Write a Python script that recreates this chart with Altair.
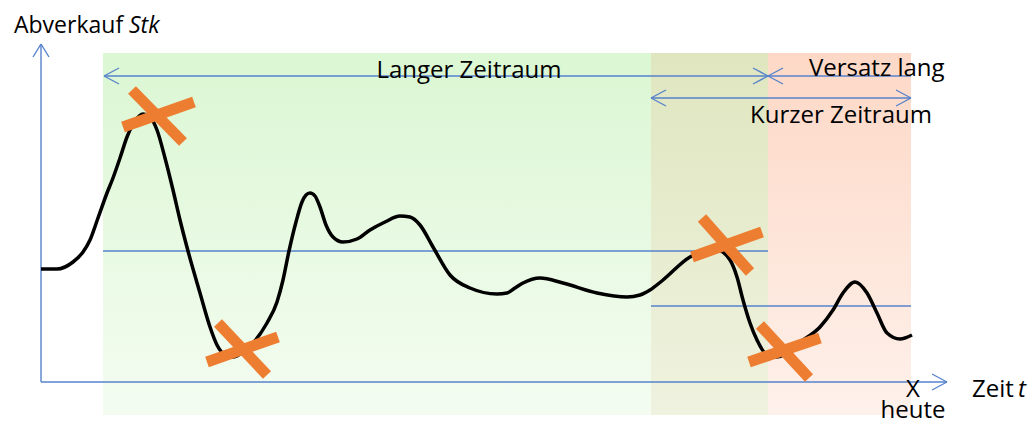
import altair as alt
import pandas as pd

# ---- data (time t, sales s) ----
curve_t = [0, 16, 32, 42, 49, 57, 66, 72, 79, 86, 94, 102, 109, 116, 124, 132, 139, 147, 159, 169, 176, 186, 192,
           202, 212, 226, 236, 242, 248, 255, 261, 265, 269, 274, 279, 285, 292, 302, 316, 329, 344, 359, 369, 379, 392,
           409, 429, 456, 466, 474, 482, 499, 522, 556, 586, 599, 609, 622, 649, 664, 676, 689, 696, 702, 709,
           716, 724, 736, 759, 779, 792, 802, 814, 826, 836, 846, 859, 871]
curve_s = [113, 113, 120, 130, 142, 164, 189, 204, 224, 245, 261, 268, 265, 252, 224, 192, 162, 131, 89, 55, 37, 26, 25,
           30, 39, 59, 80, 102, 131, 160, 180, 187, 189, 186, 175, 157, 145, 140, 143, 152, 160, 166, 165, 157, 135,
           107, 94, 88, 89, 94, 99, 104, 99, 89, 85, 87, 92, 102, 125, 131, 132, 122, 105, 82, 59,
           42, 29, 25, 40, 55, 72, 89, 100, 89, 69, 49, 43, 47]

# shaded periods: start, end, colours (top, bottom)
region_start = [62, 610, 727]
region_end = [610, 727, 870]
region_top_col = ["#dbf7d3", "#dfe6bf", "#fdd8c6"]
region_bot_col = ["#f4fcf1", "#eff2df", "#fef1eb"]
region_s_top = 329
region_s_bot = -33

# horizontal reference levels
level_t1 = [62, 610]
level_t2 = [727, 870]
level_s = [131, 76]

# range arrows: start, end, level, head at start, head at end
arrow_t1 = [63, 727, 610]
arrow_t2 = [727, 870, 870]
arrow_s = [306, 306, 284]
arrow_head_l = [True, True, True]
arrow_head_r = [True, False, True]

# crossed-out extremes (two bars each)
cross_t1 = [91, 82, 177, 166, 661, 651, 719, 708]
cross_s1 = [292, 255, 59, 20, 164, 125, 57, 20]
cross_t2 = [142, 153, 226, 237, 709, 721, 768, 779]
cross_s2 = [240, 280, 7, 45, 110, 150, 4, 44]

# axes
axis_t_end = 906
axis_s_end = 338

# labels
label_text = ["Abverkauf", "Stk", "Langer Zeitraum", "Versatz lang", "Kurzer Zeitraum", "Zeit", "t", "X", "heute"]
label_t = [-27, 88, 428, 768, 709, 931, 977, 872, 872]
label_s = [349, 349, 304, 306, 259, -15, -15, -15, -36]
label_size = [23, 23, 24, 24, 24, 24, 24, 24, 24]
label_align = ["left", "left", "center", "left", "left", "left", "left", "center", "center"]
label_italic = [False, True, False, False, False, False, True, False, False]

# ---- build ----
W, H = 1020, 411
XS = alt.Scale(domain=[-33, 987], nice=False, zero=False)
YS = alt.Scale(domain=[-37, 374], nice=False, zero=False)
BLUE = "#5682cc"
FONT = "Open Sans"

def xe(f="t"):
    return alt.X(f + ":Q", scale=XS, axis=None)

def ye(f="s"):
    return alt.Y(f + ":Q", scale=YS, axis=None)

layers = []
for a, b, ct, cb in zip(region_start, region_end, region_top_col, region_bot_col):
    d = pd.DataFrame({"t": [a], "t2": [b], "s": [region_s_top], "s2": [region_s_bot]})
    grad = alt.Gradient(gradient="linear", x1=0, x2=0, y1=0, y2=1,
                        stops=[alt.GradientStop(color=ct, offset=0), alt.GradientStop(color=cb, offset=1)])
    layers.append(alt.Chart(d).mark_rect(fill=grad).encode(x=xe(), x2="t2", y=ye(), y2="s2"))

# segments for blue lines
segs = []
for a, b, s in zip(level_t1, level_t2, level_s):
    segs.append((a, s, b, s))
HX, HY = 15, 8
for a, b, s, hl, hr in zip(arrow_t1, arrow_t2, arrow_s, arrow_head_l, arrow_head_r):
    segs.append((a, s, b, s))
    if hl:
        segs += [(a, s, a + HX, s + HY), (a, s, a + HX, s - HY)]
    if hr:
        segs += [(b, s, b - HX, s + HY), (b, s, b - HX, s - HY)]
seg_df = pd.DataFrame(segs, columns=["t", "s", "t2", "s2"])
layers.append(alt.Chart(seg_df).mark_rule(color=BLUE, strokeWidth=1.4).encode(
    x=xe(), y=ye(), x2="t2", y2="s2"))

axes = [(0, 0, axis_t_end, 0), (0, 0, 0, axis_s_end),
        (axis_t_end, 0, axis_t_end - 15, 8), (axis_t_end, 0, axis_t_end - 15, -8),
        (0, axis_s_end, -8, axis_s_end - 13), (0, axis_s_end, 8, axis_s_end - 13)]
ax_df = pd.DataFrame(axes, columns=["t", "s", "t2", "s2"])
layers.append(alt.Chart(ax_df).mark_rule(color=BLUE, strokeWidth=1.4).encode(
    x=xe(), y=ye(), x2="t2", y2="s2"))

cdf = pd.DataFrame({"t": curve_t, "s": curve_s})
layers.append(alt.Chart(cdf).mark_line(color="black", strokeWidth=3.5, interpolate="monotone").encode(
    x=xe(), y=ye()))

xdf = pd.DataFrame({"t": cross_t1, "s": cross_s1, "t2": cross_t2, "s2": cross_s2})
layers.append(alt.Chart(xdf).mark_rule(color="#ed7d31", strokeWidth=11, strokeCap="butt").encode(
    x=xe(), y=ye(), x2="t2", y2="s2"))

for txt, t, s, fs, al, it in zip(label_text, label_t, label_s, label_size, label_align, label_italic):
    d = pd.DataFrame({"t": [t], "s": [s], "txt": [txt]})
    kw = dict(font=FONT, fontSize=fs, color="black", align=al, baseline="alphabetic")
    if it:
        kw["fontStyle"] = "italic"
    layers.append(alt.Chart(d).mark_text(**kw).encode(x=xe(), y=ye(), text="txt:N"))

chart = alt.layer(*layers).properties(
    width=W, height=H, padding=0, autosize=alt.AutoSizeParams(type="none")
).configure_view(stroke=None)

chart.save("out.html", embed_options={"renderer": "svg", "actions": False})
